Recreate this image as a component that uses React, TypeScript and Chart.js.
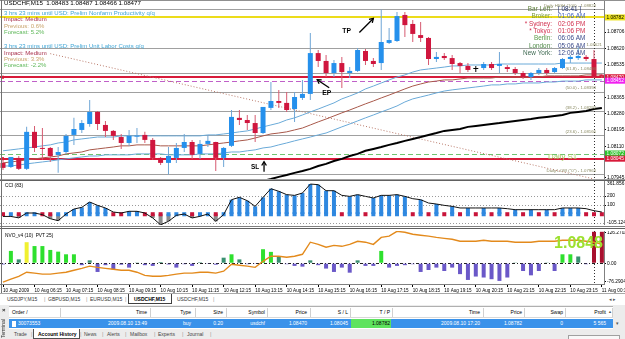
import React, { useEffect, useRef } from 'react';
import { Chart, registerables } from 'chart.js';

Chart.register(...registerables);

const FONT = '"Liberation Sans", Arial, Helvetica, sans-serif';
Chart.defaults.font.family = FONT;

// ---------------- data ----------------
const symbolName = 'USDCHF,M15';

const opens = [
  1.08023, 1.08002, 1.08049, 1.07992, 1.08185, 1.08101, 1.08101, 1.08065, 1.08080, 1.08169,
  1.08195, 1.08226, 1.08289, 1.08221, 1.08190, 1.08158, 1.08127, 1.08160, 1.08169, 1.08143,
  1.08049, 1.08023, 1.08049, 1.08101, 1.08132, 1.08070, 1.08122, 1.08132, 1.08049, 1.08112,
  1.08258, 1.08247, 1.08231, 1.08179, 1.08310, 1.08346, 1.08336, 1.08304, 1.08362, 1.08383,
  1.08596, 1.08555, 1.08492, 1.08544, 1.08492, 1.08503, 1.08607, 1.08555, 1.08544, 1.08649,
  1.08659, 1.08795, 1.08748, 1.08690, 1.08675, 1.08565, 1.08581, 1.08570, 1.08544, 1.08529,
  1.08513, 1.08518, 1.08539, 1.08529, 1.08523, 1.08513, 1.08492, 1.08471, 1.08492, 1.08508,
  1.08497, 1.08518, 1.08565, 1.08570, 1.08576, 1.08565, 1.08483,
];
const highs = [
  1.08039, 1.08054, 1.08059, 1.08211, 1.08216, 1.08205, 1.08106, 1.08106, 1.08174, 1.08258,
  1.08247, 1.08351, 1.08294, 1.08242, 1.08195, 1.08174, 1.08195, 1.08205, 1.08185, 1.08153,
  1.08054, 1.08106, 1.08127, 1.08174, 1.08143, 1.08143, 1.08169, 1.08134, 1.08106, 1.08299,
  1.08299, 1.08273, 1.08273, 1.08315, 1.08445, 1.08404, 1.08393, 1.08393, 1.08456, 1.08701,
  1.08612, 1.08586, 1.08560, 1.08576, 1.08523, 1.08623, 1.08617, 1.08570, 1.08824, 1.08727,
  1.08810, 1.08810, 1.08769, 1.08758, 1.08680, 1.08602, 1.08596, 1.08586, 1.08550, 1.08544,
  1.08529, 1.08550, 1.08550, 1.08602, 1.08534, 1.08523, 1.08503, 1.08497, 1.08518, 1.08518,
  1.08523, 1.08570, 1.08586, 1.08628, 1.08586, 1.08612, 1.08487,
];
const lows = [
  1.07986, 1.07997, 1.07986, 1.07986, 1.08080, 1.08039, 1.08028, 1.07971, 1.08070, 1.08117,
  1.08179, 1.08211, 1.08195, 1.08158, 1.08143, 1.08096, 1.08112, 1.08127, 1.08127, 1.08039,
  1.08012, 1.07963, 1.08023, 1.08080, 1.08044, 1.08044, 1.08106, 1.07981, 1.08002, 1.08106,
  1.08221, 1.08195, 1.08132, 1.08174, 1.08299, 1.08310, 1.08289, 1.08237, 1.08351, 1.08351,
  1.08523, 1.08471, 1.08471, 1.08414, 1.08466, 1.08497, 1.08534, 1.08523, 1.08508, 1.08644,
  1.08654, 1.08680, 1.08654, 1.08654, 1.08534, 1.08550, 1.08560, 1.08508, 1.08492, 1.08497,
  1.08497, 1.08508, 1.08508, 1.08492, 1.08497, 1.08482, 1.08461, 1.08456, 1.08482, 1.08482,
  1.08492, 1.08513, 1.08544, 1.08560, 1.08555, 1.08466, 1.08466,
];
const closes = [
  1.07997, 1.08054, 1.07992, 1.08185, 1.08101, 1.08096, 1.08059, 1.08080, 1.08164, 1.08200,
  1.08231, 1.08289, 1.08226, 1.08190, 1.08164, 1.08127, 1.08164, 1.08164, 1.08143, 1.08049,
  1.08023, 1.08059, 1.08101, 1.08132, 1.08065, 1.08122, 1.08138, 1.08049, 1.08101, 1.08263,
  1.08247, 1.08231, 1.08179, 1.08315, 1.08346, 1.08336, 1.08299, 1.08367, 1.08383, 1.08596,
  1.08555, 1.08492, 1.08544, 1.08497, 1.08503, 1.08612, 1.08555, 1.08539, 1.08654, 1.08664,
  1.08789, 1.08742, 1.08696, 1.08675, 1.08565, 1.08576, 1.08570, 1.08539, 1.08529, 1.08508,
  1.08513, 1.08539, 1.08518, 1.08539, 1.08513, 1.08492, 1.08471, 1.08492, 1.08508, 1.08492,
  1.08518, 1.08565, 1.08576, 1.08581, 1.08565, 1.08471, 1.08477,
];

const upperBand = [
  1.08086, 1.08091, 1.08096, 1.08101, 1.08106, 1.08112, 1.08117, 1.08127, 1.08132, 1.08143,
  1.08148, 1.08153, 1.08158, 1.08158, 1.08158, 1.08164, 1.08164, 1.08164, 1.08164, 1.08164,
  1.08164, 1.08164, 1.08164, 1.08164, 1.08164, 1.08164, 1.08169, 1.08169, 1.08174, 1.08179,
  1.08185, 1.08190, 1.08200, 1.08211, 1.08221, 1.08231, 1.08247, 1.08258, 1.08273, 1.08289,
  1.08304, 1.08320, 1.08336, 1.08357, 1.08372, 1.08388, 1.08409, 1.08424, 1.08440, 1.08456,
  1.08471, 1.08482, 1.08497, 1.08508, 1.08513, 1.08518, 1.08523, 1.08529, 1.08529, 1.08534,
  1.08534, 1.08534, 1.08534, 1.08539, 1.08539, 1.08539, 1.08539, 1.08539, 1.08539, 1.08539,
  1.08539, 1.08544, 1.08544, 1.08544, 1.08544, 1.08544, 1.08544,
];
const middleBand = [
  1.08023, 1.08028, 1.08033, 1.08039, 1.08044, 1.08049, 1.08054, 1.08059, 1.08070, 1.08075,
  1.08080, 1.08091, 1.08096, 1.08101, 1.08106, 1.08112, 1.08112, 1.08117, 1.08117, 1.08117,
  1.08112, 1.08112, 1.08112, 1.08112, 1.08112, 1.08112, 1.08117, 1.08122, 1.08127, 1.08132,
  1.08138, 1.08143, 1.08153, 1.08164, 1.08174, 1.08179, 1.08185, 1.08195, 1.08205, 1.08221,
  1.08237, 1.08252, 1.08268, 1.08284, 1.08299, 1.08315, 1.08331, 1.08346, 1.08362, 1.08377,
  1.08393, 1.08409, 1.08424, 1.08435, 1.08445, 1.08450, 1.08456, 1.08456, 1.08461, 1.08466,
  1.08466, 1.08466, 1.08466, 1.08471, 1.08471, 1.08471, 1.08471, 1.08471, 1.08471, 1.08477,
  1.08477, 1.08477, 1.08477, 1.08477, 1.08482, 1.08482, 1.08482,
];
const lowerBand = [
  1.08007, 1.08007, 1.08012, 1.08018, 1.08023, 1.08028, 1.08033, 1.08039, 1.08044, 1.08049,
  1.08054, 1.08059, 1.08059, 1.08065, 1.08065, 1.08065, 1.08065, 1.08070, 1.08070, 1.08070,
  1.08070, 1.08065, 1.08065, 1.08065, 1.08065, 1.08070, 1.08070, 1.08070, 1.08075, 1.08080,
  1.08080, 1.08086, 1.08091, 1.08101, 1.08106, 1.08117, 1.08127, 1.08138, 1.08148, 1.08158,
  1.08169, 1.08179, 1.08195, 1.08211, 1.08226, 1.08242, 1.08258, 1.08273, 1.08289, 1.08304,
  1.08320, 1.08341, 1.08357, 1.08367, 1.08377, 1.08388, 1.08398, 1.08404, 1.08409, 1.08414,
  1.08419, 1.08424, 1.08430, 1.08430, 1.08435, 1.08435, 1.08440, 1.08440, 1.08440, 1.08445,
  1.08445, 1.08450, 1.08450, 1.08450, 1.08456, 1.08456, 1.08456,
];
const slowMAStartBar = 31;
const slowMAValues = [
  1.07908, 1.07919, 1.07929, 1.07939, 1.07950, 1.07960, 1.07971, 1.07981, 1.07992, 1.08007,
  1.08018, 1.08033, 1.08044, 1.08059, 1.08070, 1.08086, 1.08096, 1.08106, 1.08117, 1.08127,
  1.08138, 1.08148, 1.08158, 1.08169, 1.08179, 1.08190, 1.08195, 1.08200, 1.08211, 1.08216,
  1.08221, 1.08226, 1.08231, 1.08237, 1.08242, 1.08247, 1.08252, 1.08258, 1.08263, 1.08268,
  1.08273, 1.08284, 1.08289, 1.08294, 1.08304, 1.08310,
];
const trendBars = [6, 75];
const trendPrices = [1.08593, 1.07939];

const fibPrices = [1.08824, 1.08494, 1.08394, 1.08292, 1.08166, 1.07963];
const fibNames = ['Daily HIGH (100)', '(61.8)', '(50.0)', '(38.2)', '(23.6)', 'Daily LOW ("0")'];
const pivotPrice = 1.08621;
const takeProfit = 1.08782;
const entryPrice = 1.08470;
const stopLoss = 1.08045;
const markerPrice = 1.08452;
const dailyS1 = 1.08072;
const daySeparatorBar = 75;
const tpBar = 47;
const epBar = 40;
const slBar = 33;

const priceTicks = [1.08706, 1.08620, 1.08535, 1.08365, 1.08280, 1.08195, 1.08110, 1.07945];

const newsLines = [
  '3 hrs 23 mins until USD: Prelim Nonfarm Productivity q/q',
  'Impact: Medium',
  'Previous: 0.6%',
  'Forecast: 5.2%',
  '3 hrs 23 mins until USD: Prelim Unit Labor Costs q/q',
  'Impact: Medium',
  'Previous: 3.3%',
  'Forecast: -2.2%',
];
const clockLabels = ['Bar Left:', 'Broker:', '* Sydney:', '* Tokyo:', 'Berlin:', 'London:', 'New York:'];
const clockValues = ['[ 08:41 ]', '01:06 AM', '02:06 PM', '01:06 PM', '06:06 AM', '05:06 AM', '12:06 AM'];

const cciValues = [
  -27, -27, -43, 11, 11, -7, -52, -74, 0, 55,
  74, 133, 96, 67, 22, 11, 30, 30, 11, -44,
  -120, -81, -15, 0, -44, -26, 0, -81, -7, 159,
  185, 148, 85, 185, 281, 252, 215, 207, 233, 333,
  326, 259, 259, 207, 196, 215, 196, 178, 207, 207,
  215, 196, 170, 159, 122, 111, 96, 85, 67, 67,
  67, 67, 67, 67, 59, 48, 48, 48, 48, 48,
  48, 67, 67, 67, 59, 37, 22,
];
// b = rising buffer (blue), r = falling buffer (red)
const cciTrend = 'rbrbbrrbbbbbbbrrbbrrrbbbrbbrbbbbbbbbbbbbbbbbbrbbrbbbbbrbrbrbrbrbrbrbrbrbrbbbrrr'.slice(0, 0) +
  'rbrbbrrbbb' + 'bbbbrrbbrr' + 'rbbbrbbrbb' + 'bbbbbbbbbb' + 'bbbrbbrbbb' + 'bbrbrbrbrb' + 'rbrbrbrbrb' + 'rbbbrrr';
const cciTicks = [200, 100];
const cciGuides = [200, 100, -100];
const cciTop = '361.856';
const cciBottom = '-105.124';

const nvoValues = [
  -5, 51, 16, 87, 71, 71, 55, 48, 37, 37,
  -8, 12, -36, -8, -25, -6, -18, 3, -8, -11,
  5, -5, -18, -4, -11, 4, -3, -6, 23, 37,
  16, -4, -3, 58, 47, 28, -4, -11, -14, 12,
  -8, -22, -36, -18, -39, 12, -11, -11, 51, -18,
  -11, -8, -4, -36, -28, -18, -32, -18, -45, -69,
  -55, -59, -66, -73, -59, 3, -32, -50, -32, 3,
  -32, 37, 37, 28, -4, 130, 130,
];
// u = strong up, w = weak up, d = down, p = peak, a = alert
const nvoState = 'duwpuuuuuu' + 'dwdddddwdd' + 'wddddwddwu' + 'wdduuwdddw' + 'dddddwddud' + 'dddddddddd' + 'dddddwdddw' + 'duuwdaa';
const pvtValues = [
  -78, -66, -54, -37, -41, -45, -45, -41, -37, -29,
  -21, -12, -17, -21, -25, -29, -29, -37, -50, -54,
  -54, -50, -45, -41, -41, -37, -37, -41, -33, -4,
  -8, -12, -17, 8, 29, 29, 25, 29, 37, 87,
  78, 66, 74, 70, 78, 91, 87, 78, 107, 112,
  132, 128, 120, 116, 112, 107, 103, 99, 91, 91,
  91, 95, 91, 91, 91, 87, 87, 87, 91, 91,
  91, 95, 95, 95, 91, 87, 78,
];
const nvoTicks = [126.2702, 0, -76.2904];
const nvoTickLabels = ['126.2702', '0.00', '-76.2904'];

const timeTickBars = [0, 4, 8, 12, 16, 20, 24, 28, 32, 36, 40, 44, 48, 52, 56, 60, 64, 68, 72, 76];
const timeTickLabels = [
  '10 Aug 2009', '10 Aug 06:15', '10 Aug 07:15', '10 Aug 08:15', '10 Aug 09:15', '10 Aug 10:15',
  '10 Aug 11:15', '10 Aug 12:15', '10 Aug 13:15', '10 Aug 14:15', '10 Aug 15:15', '10 Aug 16:15',
  '10 Aug 17:15', '10 Aug 18:15', '10 Aug 19:15', '10 Aug 20:15', '10 Aug 21:15', '10 Aug 22:15',
  '10 Aug 23:15', '11 Aug 00:15',
];

const chartTabs = ['USDJPY,M15', 'GBPUSD,M15', 'EURUSD,M15', 'USDCHF,M15', 'USDCHF,M15'];
const columnHeaders = ['Order', 'Time', 'Type', 'Size', 'Symbol', 'Price', 'S / L', 'T / P', 'Time', 'Price', 'Swap', 'Profit'];
const orderRow = ['30073553', '2009.08.10 13:49', 'buy', '0.20', 'usdchf', '1.08470', '1.08045', '1.08782', '2009.08.10 17:20', '1.08782', '0', '5 565'];
const terminalTabs = ['Trade', 'Account History', 'News', 'Alerts', 'Mailbox', 'Experts', 'Journal'];

// ---------------- layout constants ----------------
const X_MIN = -0.381;
const X_MAX = 76.27;
const AXIS_W = 21;

const BULL = '#2590ec';
const BEAR = '#d0163e';
const BULL_WICK = '#6fa6d6';
const BEAR_WICK = '#d65a70';

function drawText(ctx: CanvasRenderingContext2D, s: string, x: number, y: number, color: string, size: number,
  align: CanvasTextAlign = 'left', baseline: CanvasTextBaseline = 'middle', bold = false) {
  ctx.font = `${bold ? 'bold ' : ''}${size}px ${FONT}`;
  ctx.fillStyle = color;
  ctx.textAlign = align;
  ctx.textBaseline = baseline;
  ctx.fillText(s, x, y);
}

function drawArrow(ctx: CanvasRenderingContext2D, x1: number, y1: number, x2: number, y2: number) {
  ctx.save();
  ctx.strokeStyle = '#000';
  ctx.lineWidth = 1.3;
  ctx.setLineDash([]);
  ctx.beginPath();
  ctx.moveTo(x1, y1);
  ctx.lineTo(x2, y2);
  ctx.stroke();
  const ang = Math.atan2(y2 - y1, x2 - x1);
  const L = 4.5;
  ctx.beginPath();
  ctx.moveTo(x2 - L * Math.cos(ang - 0.55), y2 - L * Math.sin(ang - 0.55));
  ctx.lineTo(x2, y2);
  ctx.lineTo(x2 - L * Math.cos(ang + 0.55), y2 - L * Math.sin(ang + 0.55));
  ctx.stroke();
  ctx.restore();
}

function daySeparator(chart: any) {
  const { ctx, chartArea: a, scales } = chart;
  const sx = Math.round(scales.x.getPixelForValue(daySeparatorBar)) + 0.5;
  ctx.save();
  ctx.strokeStyle = '#303030';
  ctx.lineWidth = 1;
  ctx.setLineDash([1, 2]);
  ctx.beginPath();
  ctx.moveTo(sx, a.top);
  ctx.lineTo(sx, a.bottom);
  ctx.stroke();
  ctx.restore();
}

function rightAxis(min: number, max: number, ticks: number[], fmt: (v: number) => string) {
  return {
    position: 'right',
    min,
    max,
    afterBuildTicks: (s: any) => { s.ticks = ticks.map((v) => ({ value: v })); },
    afterFit: (s: any) => { s.width = AXIS_W; s.paddingTop = 0; s.paddingBottom = 0; },
    ticks: { font: { size: 4.8, family: FONT }, color: '#000', padding: 1, autoSkip: false, callback: (v: any) => fmt(Number(v)) },
    grid: { drawOnChartArea: false, drawTicks: true, tickLength: 2, color: '#000' },
    border: { display: true, color: '#808080' },
  };
}

const hiddenX = { type: 'linear', min: X_MIN, max: X_MAX, display: false, offset: false, grid: { offset: false } };

const baseOptions = {
  responsive: false,
  animation: false,
  events: [],
  layout: { padding: 0, autoPadding: false },
  plugins: { legend: { display: false }, tooltip: { enabled: false } },
};

const bars = opens.map((_, i) => i);

function makeMain(canvas: HTMLCanvasElement) {
  const bodyColors = bars.map((i) => (closes[i] > opens[i] ? BULL : closes[i] < opens[i] ? BEAR : '#000'));
  const wickColors = bars.map((i) => (closes[i] > opens[i] ? BULL_WICK : closes[i] < opens[i] ? BEAR_WICK : '#000'));
  const last = opens.length - 1;

  const overlay = {
    id: 'mainOverlay',
    beforeDatasetsDraw(chart: any) {
      const { ctx, chartArea: a, scales } = chart;
      const y = scales.y;
      const hline = (p: number, color: string, w: number, dash: number[] = []) => {
        const py = Math.round(y.getPixelForValue(p)) + (w % 2 ? 0.5 : 0);
        ctx.beginPath();
        ctx.setLineDash(dash);
        ctx.strokeStyle = color;
        ctx.lineWidth = w;
        ctx.moveTo(a.left, py);
        ctx.lineTo(a.right, py);
        ctx.stroke();
      };
      ctx.save();
      fibPrices.forEach((p) => hline(p, '#a0a0a0', 1));
      hline(pivotPrice, '#a0a0a0', 1);
      hline(dailyS1, '#70c470', 1, [5, 3]);
      hline(markerPrice, '#c060c8', 1, [5, 3]);
      hline(takeProfit, '#ecdc1a', 2);
      hline(entryPrice, '#d81a3a', 2);
      hline(stopLoss, '#d81a3a', 2);
      ctx.restore();
      daySeparator(chart);
    },
    afterDatasetsDraw(chart: any) {
      const { ctx, chartArea: a, scales } = chart;
      const x = scales.x, y = scales.y;
      ctx.save();
      // header
      drawText(ctx, `${symbolName}  ${opens[last].toFixed(5)} ${highs[last].toFixed(5)} ${lows[last].toFixed(5)} ${closes[last].toFixed(5)}`,
        4, 3.5, '#000', 6.2, 'left', 'middle');
      // news block
      const newsColors = ['#3fa6d6', '#a8304c', '#c9a46c', '#5fb85a'];
      const newsY = [13.3, 19.6, 26, 32.4, 46.6, 53, 59.3, 65.7];
      newsLines.forEach((s, k) => drawText(ctx, s, 4, newsY[k], newsColors[k % 4], 6));
      // clock block
      const labelColors = ['#5d7f3a', '#7c9c3c', '#d2304e', '#d2304e', '#5a9a48', '#4f8a48', '#3f6a52'];
      const valueColors = ['#1e2e6e', '#3a5cc0', '#d2304e', '#d2304e', '#3a4a8a', '#3a4a8a', '#3a4a8a'];
      const clockY = [9.3, 16.3, 24, 31.5, 38.6, 46, 53.3];
      clockLabels.forEach((s, k) => {
        drawText(ctx, s, 552, clockY[k], labelColors[k], 6.4, 'right');
        drawText(ctx, clockValues[k], 558, clockY[k], valueColors[k], 6.4, 'left');
      });
      // fib labels
      fibPrices.forEach((p, k) => {
        drawText(ctx, `${fibNames[k]} - ${p.toFixed(5)}`, a.right - 8, y.getPixelForValue(p) - 1.5, '#8a8a62', 4.3, 'right', 'bottom');
      });
      drawText(ctx, pivotPrice.toFixed(5), a.right - 2, y.getPixelForValue(pivotPrice) - 1.5, '#8a8a62', 4.3, 'right', 'bottom');
      drawText(ctx, 'Daily S1', 548, (y.getPixelForValue(dailyS1) + y.getPixelForValue(stopLoss)) / 2 + 0.5, '#a6c860', 7.8);
      // trade annotations
      const tp = { x: x.getPixelForValue(tpBar), y: y.getPixelForValue(takeProfit) + 1 };
      drawArrow(ctx, tp.x - 14, tp.y + 14, tp.x, tp.y);
      drawText(ctx, 'TP', tp.x - 31, tp.y + 13, '#000', 6.8, 'left', 'middle', true);
      const ep = { x: x.getPixelForValue(epBar) - 1, y: y.getPixelForValue(entryPrice) + 2.5 };
      drawArrow(ctx, ep.x + 12, ep.y + 8, ep.x, ep.y);
      drawText(ctx, 'EP', ep.x + 5, ep.y + 13.5, '#000', 6.8, 'left', 'middle', true);
      const sl = { x: x.getPixelForValue(slBar) + 1, y: y.getPixelForValue(stopLoss) + 3 };
      drawArrow(ctx, sl.x, sl.y + 10, sl.x, sl.y);
      drawText(ctx, 'SL', sl.x - 13, sl.y + 6, '#000', 6.4, 'left', 'middle', true);
      // small order markers
      ctx.fillStyle = '#d81a3a';
      ctx.fillRect(a.left + 1, y.getPixelForValue(entryPrice) - 1.5, 3, 3);
      ctx.fillRect(a.left + 1, y.getPixelForValue(stopLoss) - 1.5, 3, 3);
      ctx.restore();
    },
    afterDraw(chart: any) {
      const { ctx, chartArea: a, scales } = chart;
      const y = scales.y;
      const box = (p: number, bg: string, fg: string) => {
        const py = y.getPixelForValue(p);
        ctx.fillStyle = bg;
        ctx.fillRect(a.right + 1, py - 3, AXIS_W, 6);
        drawText(ctx, p.toFixed(5), a.right + 2.5, py + 0.3, fg, 4.8);
      };
      ctx.save();
      box(takeProfit, '#ece21a', '#000');
      box(entryPrice, '#d81a3a', '#fff');
      box(markerPrice, '#f020f0', '#fff');
      box(dailyS1, '#2cc42c', '#fff');
      box(stopLoss, '#d81a3a', '#fff');
      ctx.restore();
    },
  };

  return new Chart(canvas, {
    type: 'bar',
    data: {
      datasets: [
        {
          type: 'bar', data: bars.map((i) => ({ x: i, y: [opens[i], closes[i]] })),
          backgroundColor: bodyColors, barThickness: 5, grouped: false, minBarLength: 1, inflateAmount: 0, order: 0,
        },
        {
          type: 'bar', data: bars.map((i) => ({ x: i, y: [lows[i], highs[i]] })),
          backgroundColor: wickColors, barThickness: 1, grouped: false, inflateAmount: 0, order: 1,
        },
        { type: 'line', data: bars.map((i) => ({ x: i, y: upperBand[i] })), borderColor: '#6aaad8', borderWidth: 1, pointRadius: 0, order: 3 },
        { type: 'line', data: bars.map((i) => ({ x: i, y: middleBand[i] })), borderColor: '#a8584a', borderWidth: 1, pointRadius: 0, order: 3 },
        { type: 'line', data: bars.map((i) => ({ x: i, y: lowerBand[i] })), borderColor: '#6aaad8', borderWidth: 1, pointRadius: 0, order: 3 },
        { type: 'line', data: slowMAValues.map((v, k) => ({ x: slowMAStartBar + k, y: v })), borderColor: '#000', borderWidth: 2, pointRadius: 0, order: 2 },
        {
          type: 'line', data: trendBars.map((b, k) => ({ x: b, y: trendPrices[k] })), borderColor: '#b87868', borderWidth: 1,
          borderDash: [1, 2], pointRadius: 0, order: 4,
        },
      ],
    },
    options: {
      ...baseOptions,
      scales: {
        x: hiddenX,
        y: rightAxis(1.07939, 1.08873, priceTicks, (v) => v.toFixed(5)),
      },
    },
    plugins: [overlay],
  } as any);
}

function makeCci(canvas: HTMLCanvasElement) {
  const overlay = {
    id: 'cciOverlay',
    beforeDatasetsDraw(chart: any) {
      const { ctx, chartArea: a, scales } = chart;
      ctx.save();
      ctx.strokeStyle = '#9a9a9a';
      ctx.lineWidth = 1;
      ctx.setLineDash([1, 2]);
      cciGuides.forEach((v) => {
        const py = Math.round(scales.y.getPixelForValue(v)) + 0.5;
        ctx.beginPath();
        ctx.moveTo(a.left, py);
        ctx.lineTo(a.right, py);
        ctx.stroke();
      });
      ctx.restore();
      daySeparator(chart);
    },
    afterDraw(chart: any) {
      const { ctx, chartArea: a } = chart;
      ctx.save();
      drawText(ctx, 'CCI (83)', a.left + 5, a.top + 4.5, '#000', 4.8);
      drawText(ctx, cciTop, a.right + 3, a.top + 0.5, '#000', 4.8, 'left', 'top');
      drawText(ctx, cciBottom, a.right + 3, a.bottom, '#000', 4.8, 'left', 'bottom');
      ctx.restore();
    },
  };
  const blue = bars.filter((i) => cciTrend[i] === 'b' && cciValues[i] > 20);
  const gray = bars.filter((i) => cciValues[i] < -30);
  return new Chart(canvas, {
    type: 'bar',
    data: {
      datasets: [
        { type: 'line', data: bars.map((i) => ({ x: i, y: cciValues[i] })), borderColor: '#111', borderWidth: 1, pointRadius: 0, order: 0 },
        {
          type: 'bar', data: bars.map((i) => ({ x: i, y: [-25, 20] })),
          backgroundColor: bars.map((i) => (cciTrend[i] === 'r' ? '#c8143a' : '#2f88e0')),
          barThickness: 4, grouped: false, inflateAmount: 0, order: 1,
        },
        {
          type: 'bar', data: blue.map((i) => ({ x: i, y: [0, cciValues[i]] })),
          backgroundColor: '#2f88e0', barThickness: 4, grouped: false, inflateAmount: 0, order: 2,
        },
        {
          type: 'bar', data: gray.map((i) => ({ x: i, y: [0, cciValues[i]] })),
          backgroundColor: '#8c8c8c', barThickness: 4, grouped: false, inflateAmount: 0, order: 2,
        },
      ],
    },
    options: {
      ...baseOptions,
      scales: {
        x: hiddenX,
        y: rightAxis(-122.2, 366.7, cciTicks, (v) => String(v)),
      },
    },
    plugins: [overlay],
  } as any);
}

function makeNvo(canvas: HTMLCanvasElement) {
  const stateColor: Record<string, string> = { u: '#2ee02e', w: '#3a9070', d: '#6a58c8', p: '#f0f030', a: '#a8102e' };
  const overlay = {
    id: 'nvoOverlay',
    beforeDatasetsDraw(chart: any) {
      const { ctx, chartArea: a, scales } = chart;
      const py = Math.round(scales.y.getPixelForValue(0)) + 0.5;
      ctx.save();
      ctx.strokeStyle = '#202020';
      ctx.lineWidth = 1;
      ctx.setLineDash([3, 2, 1, 2]);
      ctx.beginPath();
      ctx.moveTo(a.left, py);
      ctx.lineTo(a.right, py);
      ctx.stroke();
      ctx.restore();
      daySeparator(chart);
    },
    afterDatasetsDraw(chart: any) {
      const { ctx, chartArea: a } = chart;
      ctx.save();
      drawText(ctx, 'NVO_v4 (10)  PVT 25)', a.left + 5, a.top + 4.5, '#000', 4.8);
      drawText(ctx, closes[closes.length - 1].toFixed(4), a.right - 1, a.top + 13, '#9de030', 16, 'right', 'middle', true);
      ctx.restore();
    },
  };
  return new Chart(canvas, {
    type: 'bar',
    data: {
      datasets: [
        { type: 'line', data: bars.map((i) => ({ x: i, y: pvtValues[i] })), borderColor: '#e38a1c', borderWidth: 1.4, pointRadius: 0, order: 0 },
        {
          type: 'bar', data: bars.map((i) => ({ x: i, y: nvoValues[i] })),
          backgroundColor: bars.map((i) => stateColor[nvoState[i]]),
          barThickness: 4, grouped: false, inflateAmount: 0, order: 1,
        },
      ],
    },
    options: {
      ...baseOptions,
      scales: {
        x: {
          type: 'linear', min: X_MIN, max: X_MAX, offset: false, position: 'bottom',
          afterBuildTicks: (s: any) => { s.ticks = timeTickBars.map((v) => ({ value: v })); },
          afterFit: (s: any) => { s.height = 9; s.paddingLeft = 0; s.paddingRight = 0; },
          ticks: {
            font: { size: 4.6, family: FONT }, color: '#000', padding: 0.5, autoSkip: false, maxRotation: 0, minRotation: 0, align: 'start',
            callback: (v: any) => { const k = timeTickBars.indexOf(Number(v)); return k >= 0 ? timeTickLabels[k] : ''; },
          },
          grid: { drawOnChartArea: false, drawTicks: true, tickLength: 3, color: '#000', offset: false },
          border: { display: true, color: '#808080' },
        },
        y: rightAxis(-85.8, 133.3, nvoTicks, (v) => nvoTickLabels[nvoTicks.indexOf(v)] ?? ''),
      },
    },
    plugins: [overlay],
  } as any);
}

const abs = (left: number, top: number, extra: any = {}) => ({ position: 'absolute' as const, left, top, whiteSpace: 'nowrap' as const, lineHeight: 1, ...extra });

export default function App() {
  const mainRef = useRef<HTMLCanvasElement>(null);
  const cciRef = useRef<HTMLCanvasElement>(null);
  const nvoRef = useRef<HTMLCanvasElement>(null);

  useEffect(() => {
    const charts = [makeMain(mainRef.current!), makeCci(cciRef.current!), makeNvo(nvoRef.current!)];
    return () => charts.forEach((c) => c.destroy());
  }, []);

  const tabX = [7, 48, 90, 134, 177];
  const colEnds = [0, 147, 191, 223, 265, 307, 348, 390, 480, 522, 563, 606];
  const colSeps = [60, 150, 195, 226, 267, 310, 350, 392, 483, 524, 565, 612];
  const termTabX = [14, 38, 84, 107, 130, 158, 187];
  const termSepX = [31, 80, 102, 125, 154, 182, 210];

  return (
    <div style={{ position: 'fixed', left: 0, top: 0, width: 625, height: 339, overflow: 'hidden', background: '#fff', fontFamily: FONT }}>
      <canvas ref={mainRef} width={625} height={179} style={{ position: 'absolute', left: 0, top: 0, display: 'block' }} />
      <div style={{ position: 'absolute', left: 0, top: 179, width: 625, height: 1, background: '#a0a0a0' }} />
      <div style={{ position: 'absolute', left: 0, top: 180, width: 625, height: 1, background: '#606060' }} />
      <canvas ref={cciRef} width={625} height={44} style={{ position: 'absolute', left: 0, top: 181, display: 'block' }} />
      <div style={{ position: 'absolute', left: 0, top: 226, width: 625, height: 1, background: '#808080' }} />
      <div style={{ position: 'absolute', left: 0, top: 228, width: 625, height: 1, background: '#606060' }} />
      <canvas ref={nvoRef} width={625} height={62} style={{ position: 'absolute', left: 0, top: 231, display: 'block' }} />
      <div style={{ position: 'absolute', left: 0, top: 0, width: 625, height: 1, background: '#909090' }} />
      <div style={{ position: 'absolute', left: 1, top: 0, width: 1, height: 293, background: '#707070' }} />

      {/* chart tabs */}
      <div style={{ position: 'absolute', left: 0, top: 293, width: 625, height: 12, background: '#fff', borderTop: '1px solid #a8a8a8', boxSizing: 'border-box' }}>
        <div style={{ position: 'absolute', left: 128, top: 0, width: 44, height: 10, background: '#fff', border: '1px solid #404040', borderTop: 'none', boxSizing: 'border-box' }} />
        {chartTabs.map((t, k) => (
          <span key={k} style={abs(tabX[k], 3, { fontSize: 5, color: k === 3 ? '#000' : '#333', fontWeight: k === 3 ? 'bold' : 'normal' })}>{t}</span>
        ))}
        {[44, 86, 125, 213].map((sx, k) => (
          <span key={'s' + k} style={abs(sx, 3, { fontSize: 5.5, color: '#999' })}>|</span>
        ))}
        <span style={abs(609, 3, { fontSize: 5, color: '#555' })}>◂ ▸</span>
      </div>

      {/* terminal */}
      <div style={{ position: 'absolute', left: 0, top: 305, width: 625, height: 34, background: '#ececec' }}>
        <span style={abs(2, 2, { fontSize: 6, fontWeight: 'bold', color: '#222' })}>×</span>
        <span style={abs(1, 33, { fontSize: 5, color: '#333', transform: 'rotate(-90deg)', transformOrigin: 'left top' })}>Terminal</span>
        <div style={{ position: 'absolute', left: 9, top: 1, width: 604, height: 23, background: '#fff', borderTop: '1px solid #b0b0b0', boxSizing: 'border-box' }} />
        {colSeps.map((sx, k) => (
          <div key={'c' + k} style={{ position: 'absolute', left: sx, top: 3, width: 1, height: 9, background: '#d0d0d0' }} />
        ))}
        <div style={{ position: 'absolute', left: 9, top: 12, width: 604, height: 1, background: '#d8d8d8' }} />
        {columnHeaders.map((h, k) => k === 0
          ? <span key={'h' + k} style={abs(12, 5, { fontSize: 5, color: '#000' })}>{h}  /</span>
          : <span key={'h' + k} style={abs(colEnds[k] - 80, 5, { fontSize: 5, color: '#000', width: 80, textAlign: 'right' })}>{h}</span>)}
        <span style={abs(608, 5, { fontSize: 4, color: '#555' })}>▲</span>
        <div style={{ position: 'absolute', left: 9, top: 14, width: 604, height: 9, background: '#3a92ea' }} />
        <div style={{ position: 'absolute', left: 351, top: 14, width: 40, height: 9, background: '#5ee35e' }} />
        <div style={{ position: 'absolute', left: 12, top: 15.5, width: 4, height: 6, background: '#fff' }} />
        {orderRow.map((v, k) => k === 0
          ? <span key={'r' + k} style={abs(18, 16, { fontSize: 5, color: '#fff' })}>{v}</span>
          : <span key={'r' + k} style={abs(colEnds[k] - 80, 16, { fontSize: 5, color: k === 7 ? '#000' : '#fff', width: 80, textAlign: 'right' })}>{v}</span>)}
        <span style={abs(616, 16, { fontSize: 5, color: '#555' })}>▾</span>
        <div style={{ position: 'absolute', left: 33, top: 24, width: 47, height: 10, background: '#fff', border: '1px solid #505050', borderTop: 'none', boxSizing: 'border-box' }} />
        {terminalTabs.map((t, k) => (
          <span key={'t' + k} style={abs(termTabX[k], 27, { fontSize: 5, color: k === 1 ? '#000' : '#444', fontWeight: k === 1 ? 'bold' : 'normal' })}>{t}</span>
        ))}
        {termSepX.map((sx, k) => (
          <span key={'ts' + k} style={abs(sx, 27, { fontSize: 5.5, color: '#999' })}>|</span>
        ))}
        <div style={{ position: 'absolute', left: 568, top: 30, width: 52, height: 6, background: '#f8f8f8', border: '1px solid #a0a0a0', boxSizing: 'border-box' }} />
      </div>
    </div>
  );
}
